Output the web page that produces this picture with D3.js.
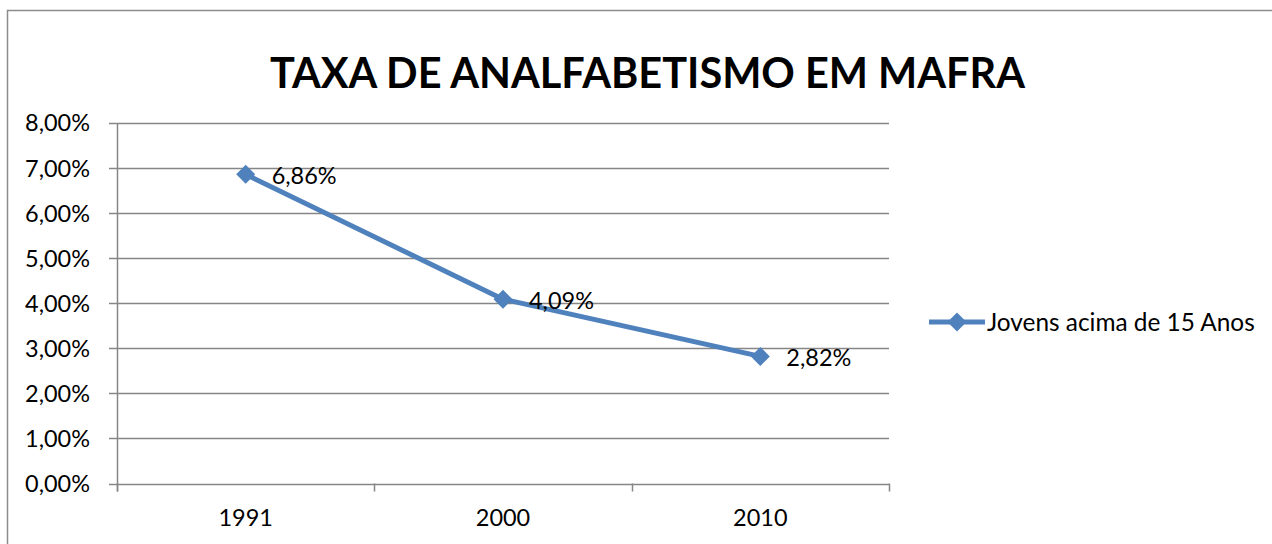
<!DOCTYPE html>
<html>
<head>
<meta charset="utf-8">
<script src="https://cdn.jsdelivr.net/npm/d3@7"></script>
<style>
  html, body { margin: 0; padding: 0; background: #fff; }
  svg { display: block; font-family: Lato, "Open Sans", sans-serif; }
</style>
</head>
<body>
<svg id="chart"></svg>
<script>
// chart data
var years = ["1991", "2000", "2010"];
var rates = [0.0686, 0.0409, 0.0282];
var yTicks = [0, 0.01, 0.02, 0.03, 0.04, 0.05, 0.06, 0.07, 0.08];
var seriesName = "Jovens acima de 15 Anos";
var chartTitle = "TAXA DE ANALFABETISMO EM MAFRA";

var width = 1272, height = 544;
var blue = "#4F81BD", gridColor = "#868686";

var svg = d3.select("#chart")
	.attr("width", width)
	.attr("height", height);

// outer chart border
svg.append("rect")
	.attr("x", 7.5).attr("y", 10.5)
	.attr("width", 1400).attr("height", 700)
	.attr("fill", "none")
	.attr("stroke", "#8c8c8c")
	.attr("stroke-width", 1.5);

var plot = { left: 117, right: 889, top: 123, bottom: 483.5 };

var fmt = function(v) { return (v * 100).toFixed(2).replace(".", ",") + "%"; };

// fit text to a given width by resizing the font
var fitText = function(sel, targetWidth) {
	var size = parseFloat(sel.attr("font-size"));
	var w = sel.node().getComputedTextLength();
	sel.attr("font-size", size * targetWidth / w);
};

// title
var title = svg.append("text")
	.attr("x", 647.5).attr("y", 88)
	.attr("text-anchor", "middle")
	.attr("font-weight", "bold")
	.attr("font-size", 40)
	.attr("fill", "#000")
	.text(chartTitle);
fitText(title, 755);

// scales
var xBand = d3.scaleBand().domain(years).range([plot.left, plot.right]);
var xScale = d3.scalePoint().domain(years).range([plot.left, plot.right]).padding(0.5);
var yScale = d3.scaleLinear().domain([0, 0.08]).range([plot.bottom, plot.top]);

// horizontal gridlines with left ticks
svg.append("g").selectAll("line")
	.data(yTicks)
	.join("line")
	.attr("x1", plot.left - 8).attr("x2", plot.right)
	.attr("y1", function(d) { return Math.round(yScale(d)) + 0.5; })
	.attr("y2", function(d) { return Math.round(yScale(d)) + 0.5; })
	.attr("stroke", gridColor)
	.attr("stroke-width", 1.5);

// y labels
var yLabels = svg.append("g").selectAll("text")
	.data(yTicks)
	.join("text")
	.attr("x", 90)
	.attr("y", function(d) { return yScale(d); })
	.attr("dy", "0.36em")
	.attr("text-anchor", "end")
	.attr("font-size", 22)
	.text(fmt);
fitText(yLabels.filter(function(d, i) { return i === yTicks.length - 1; }), 65);
yLabels.attr("font-size", yLabels.filter(function(d, i) { return i === yTicks.length - 1; }).attr("font-size"));
var labelSize = parseFloat(yLabels.attr("font-size"));

// y axis line
svg.append("line")
	.attr("x1", plot.left + 0.5).attr("x2", plot.left + 0.5)
	.attr("y1", plot.top).attr("y2", plot.bottom + 8)
	.attr("stroke", gridColor).attr("stroke-width", 1.5);

// x category ticks
var boundaries = years.map(function(d) { return xBand(d); }).concat([plot.right]);
svg.append("g").selectAll("line")
	.data(boundaries)
	.join("line")
	.attr("x1", function(d) { return Math.round(d) + 0.5; })
	.attr("x2", function(d) { return Math.round(d) + 0.5; })
	.attr("y1", plot.bottom).attr("y2", plot.bottom + 8)
	.attr("stroke", gridColor).attr("stroke-width", 1.5);

// x labels
svg.append("g").selectAll("text")
	.data(years)
	.join("text")
	.attr("x", function(d) { return xScale(d); })
	.attr("y", 526)
	.attr("text-anchor", "middle")
	.attr("font-size", labelSize)
	.text(function(d) { return d; });

// series line
var data = years.map(function(y, i) { return { x: y, v: rates[i] }; });
var line = d3.line()
	.x(function(d) { return xScale(d.x); })
	.y(function(d) { return yScale(d.v); });
svg.append("path")
	.datum(data)
	.attr("d", line)
	.attr("fill", "none")
	.attr("stroke", blue)
	.attr("stroke-width", 5)
	.attr("stroke-linejoin", "round");

var diamond = d3.symbol().type(d3.symbolDiamond2).size(230);
svg.append("g").selectAll("path")
	.data(data)
	.join("path")
	.attr("transform", function(d) { return "translate(" + xScale(d.x) + "," + yScale(d.v) + ")"; })
	.attr("d", diamond)
	.attr("fill", blue);

// data labels
svg.append("g").selectAll("text")
	.data(data)
	.join("text")
	.attr("x", function(d) { return xScale(d.x) + 26; })
	.attr("y", function(d) { return yScale(d.v); })
	.attr("dy", "0.42em")
	.attr("font-size", labelSize)
	.text(function(d) { return fmt(d.v); });

// legend
var legend = svg.append("g").attr("transform", "translate(929,322)");
legend.append("line")
	.attr("x1", 0).attr("x2", 56)
	.attr("stroke", blue).attr("stroke-width", 5);
legend.append("path")
	.attr("transform", "translate(28,0)")
	.attr("d", diamond)
	.attr("fill", blue);
var legendText = legend.append("text")
	.attr("x", 58)
	.attr("dy", "0.36em")
	.attr("font-size", 22)
	.text(seriesName);
fitText(legendText, 268);
</script>
</body>
</html>
